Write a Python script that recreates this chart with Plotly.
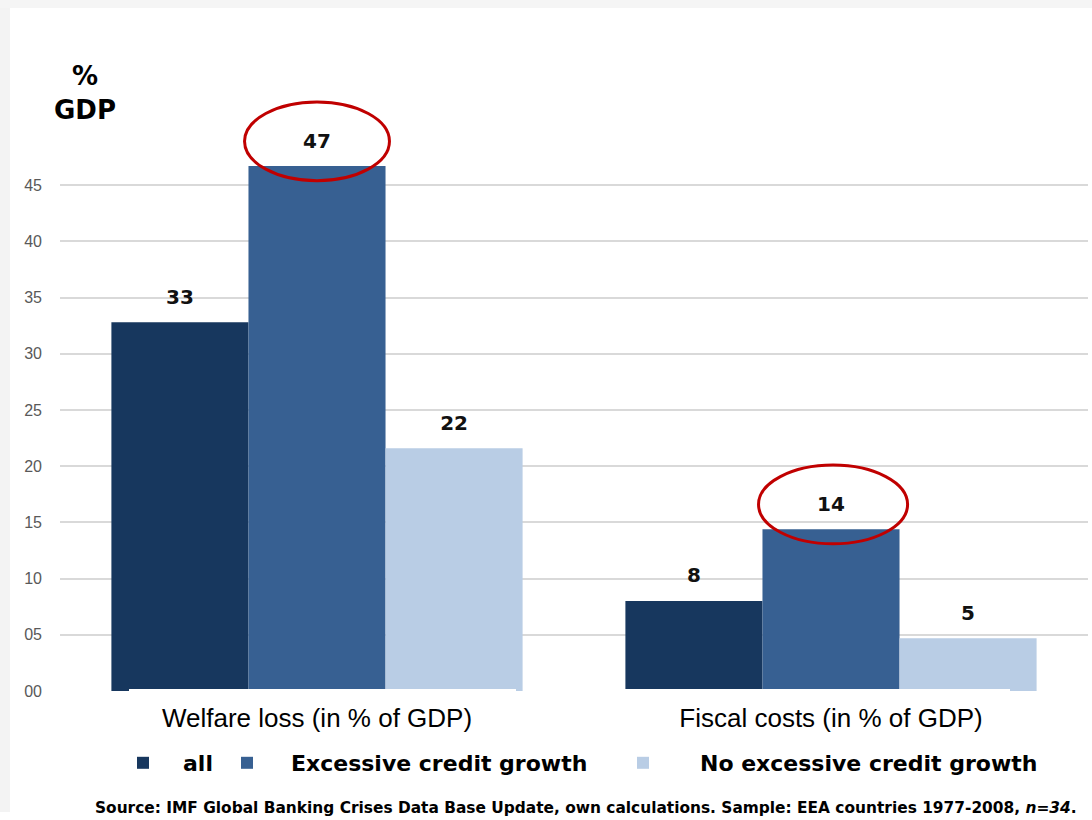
import plotly.graph_objects as go

categories = ["Welfare loss (in % of GDP)", "Fiscal costs (in % of GDP)"]
series_names = ["all", "Excessive credit growth", "No excessive credit growth"]
values_all = [32.8, 8.0]
values_excessive = [46.7, 14.4]
values_no_excessive = [21.6, 4.7]
series_values = [values_all, values_excessive, values_no_excessive]
colors = ["#17375e", "#376092", "#b9cde5"]
y_tickvals = [0, 5, 10, 15, 20, 25, 30, 35, 40, 45, 50]
y_ticktext = ["00", "05", "10", "15", "20", "25", "30", "35", "40", "45", ""]

W, H = 1092, 820
ML, MR, MT, MB = 60, 4, 129, 129
PW = W - ML - MR
PH = H - MT - MB
BARGAP = 0.2
NSER = len(series_names)
BAR_W = (1 - BARGAP) / NSER
LABEL_OFFSET = 2.1  # value labels sit this far above the bar top (data units)

def px_x(p):
    return (p - ML) / PW

def px_y(p):
    return (H - MB - p) / PH

fig = go.Figure()
legend_names = ["legend", "legend2", "legend3"]
xcat = list(range(len(categories)))
for i, (name, vals, col) in enumerate(zip(series_names, series_values, colors)):
    fig.add_trace(go.Bar(
        x=xcat, y=vals, name=name,
        marker=dict(color=col, line=dict(width=0)),
        legend=legend_names[i],
    ))
# value labels above bars
for i, vals in enumerate(series_values):
    off = (i - (NSER - 1) / 2) * BAR_W
    fig.add_trace(go.Scatter(
        x=[c + off for c in xcat], y=[v + LABEL_OFFSET for v in vals],
        mode="text", text=[f"{v:.0f}" for v in vals], textposition="middle center",
        textfont=dict(family="DejaVu Sans", size=20, color="#111111", weight="bold"),
        showlegend=False, hoverinfo="skip", cliponaxis=False,
    ))

shapes = []
# red ellipses around the "Excessive credit growth" values
for ci, v in enumerate(values_excessive):
    yc = v + 2.2
    shapes.append(dict(type="circle", xref="x", yref="paper",
                       x0=ci - 0.141, x1=ci + 0.141 + (0.008 if ci else 0),
                       y0=(yc - 3.5) / 50, y1=(yc + 3.5) / 50,
                       line=dict(color="#c00000", width=3), layer="above"))
# white box hiding top gridline left part (behind % GDP label)
shapes.append(dict(type="rect", xref="paper", yref="paper",
                   x0=px_x(22), x1=px_x(145), y0=px_y(136), y1=px_y(122),
                   fillcolor="white", line=dict(width=0), layer="above"))
# white strips behind category labels covering the baseline
for a, b in [(129, 516), (620, 1010)]:
    shapes.append(dict(type="rect", xref="paper", yref="paper",
                       x0=px_x(a), x1=px_x(b), y0=px_y(694), y1=px_y(689),
                       fillcolor="white", line=dict(width=0), layer="above"))
# faint grey page edges
shapes.append(dict(type="rect", xref="paper", yref="paper",
                   x0=px_x(0), x1=px_x(10), y0=px_y(812), y1=px_y(0),
                   fillcolor="#f3f3f3", line=dict(width=0), layer="below"))
shapes.append(dict(type="rect", xref="paper", yref="paper",
                   x0=px_x(0), x1=px_x(1092), y0=px_y(8), y1=px_y(0),
                   fillcolor="#f5f5f5", line=dict(width=0), layer="below"))

annotations = [
    dict(text="<b>%<br>GDP</b>", xref="paper", yref="paper",
         x=px_x(85), y=px_y(93), xanchor="center", yanchor="middle",
         showarrow=False, font=dict(family="DejaVu Sans", size=26, color="black")),
    dict(text="<b>Source: IMF Global Banking Crises Data Base Update, own calculations. Sample: EEA countries 1977-2008, <i>n=34</i>.</b>",
         xref="paper", yref="paper", x=px_x(586), y=px_y(808),
         xanchor="center", yanchor="middle", showarrow=False,
         font=dict(family="DejaVu Sans", size=15.4, color="black")),
]

leg_font = dict(family="DejaVu Sans", size=22, color="black", weight="bold")
leg_common = dict(orientation="h", yanchor="middle", xanchor="left",
                  font=leg_font, bgcolor="rgba(0,0,0,0)", borderwidth=0)

fig.update_layout(
    width=W, height=H,
    margin=dict(l=ML, r=MR, t=MT, b=MB, pad=0),
    paper_bgcolor="white", plot_bgcolor="white",
    barmode="group", bargap=BARGAP, bargroupgap=0,
    xaxis=dict(tickmode="array", tickvals=xcat, ticktext=categories,
               range=[-0.5, 1.5], showgrid=False, zeroline=False, showline=False,
               ticks="", ticklabelstandoff=9,
               tickfont=dict(family="Liberation Sans", size=26, color="black")),
    yaxis=dict(range=[0, 50], tickvals=y_tickvals, ticktext=y_ticktext,
               showgrid=True, gridcolor="#d9d9d9", gridwidth=2,
               zeroline=False, showline=False, ticks="", ticklabelstandoff=17,
               tickfont=dict(family="Liberation Sans", size=16, color="#595959")),
    legend=dict(**leg_common, x=px_x(103), y=px_y(763), itemwidth=70),
    legend2=dict(**leg_common, x=px_x(203), y=px_y(763), itemwidth=78),
    legend3=dict(**leg_common, x=px_x(586), y=px_y(763), itemwidth=104),
    shapes=shapes, annotations=annotations,
    showlegend=True,
)

fig.write_html("out.html")
